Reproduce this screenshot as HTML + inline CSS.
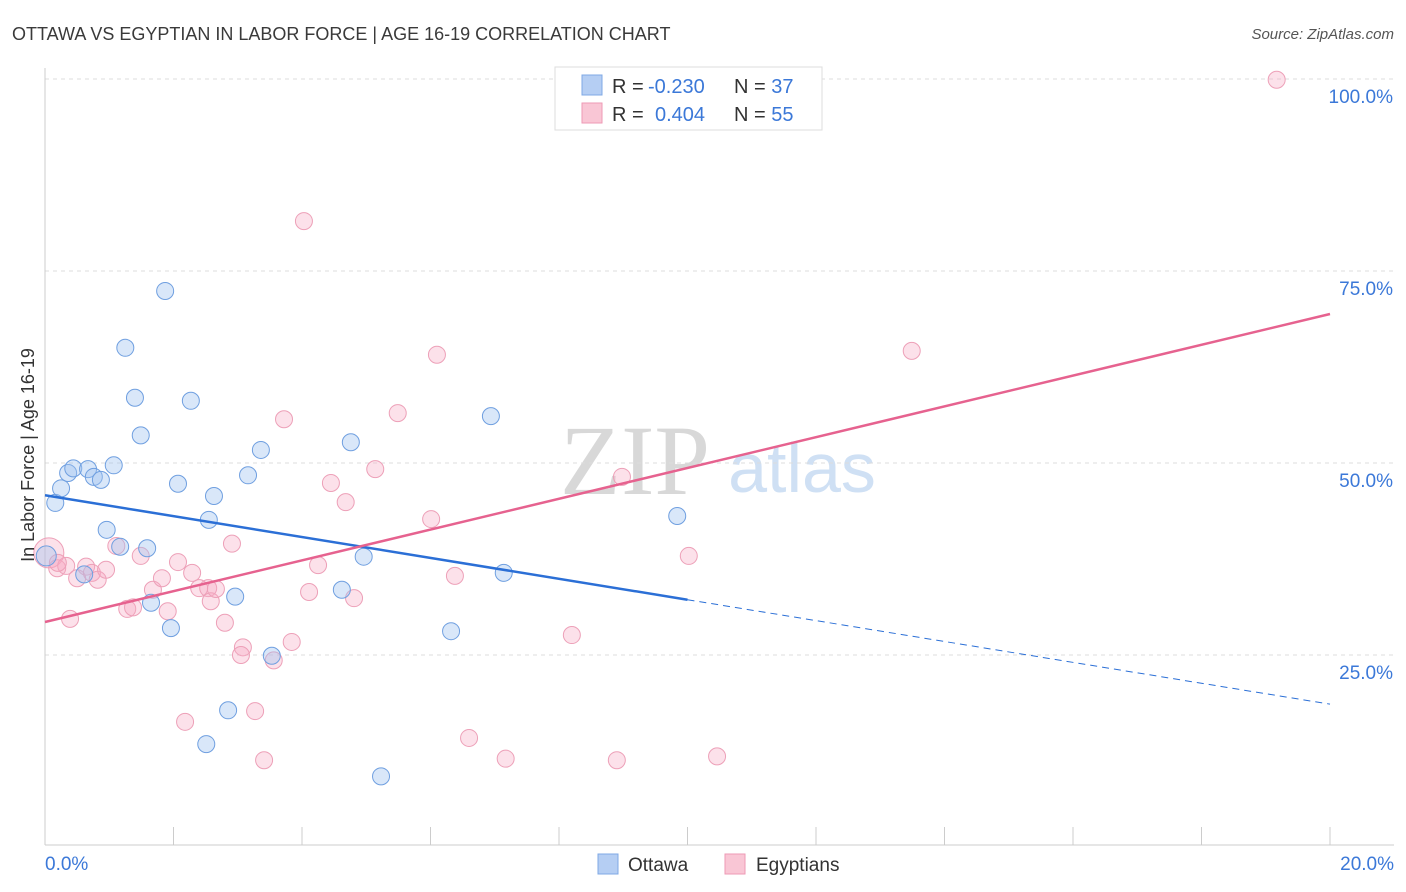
<!DOCTYPE html>
<html><head><meta charset="utf-8">
<style>
body{margin:0;background:#fff;font-family:"Liberation Sans",sans-serif;}
svg{display:block}
</style></head>
<body>
<svg id="chart" width="1406" height="892" xmlns="http://www.w3.org/2000/svg">
<text x="12" y="40" font-size="18" fill="#3a3a3a">OTTAWA VS EGYPTIAN IN LABOR FORCE | AGE 16-19 CORRELATION CHART</text>
<text x="1394" y="39" font-size="15" fill="#555" text-anchor="end" font-style="italic">Source: ZipAtlas.com</text>
<g>
<text x="635" y="494" font-size="100" fill="#d8d8d8" font-family="Liberation Serif,serif" text-anchor="middle">ZIP</text>
<text x="802" y="492" font-size="70" fill="#cfe0f4" text-anchor="middle">atlas</text>
</g>
<g id="grid"></g>
<g id="axes"></g>
<g id="marks"></g>
<text transform="translate(34,455) rotate(-90)" font-size="18" fill="#333" text-anchor="middle">In Labor Force | Age 16-19</text>
<g>
<rect x="555" y="67" width="267" height="63" fill="#fff" stroke="#ddd"/>
<rect x="582" y="75" width="20" height="20" fill="#b5cef3" stroke="#7fa8e4"/>
<rect x="582" y="103" width="20" height="20" fill="#f9c6d5" stroke="#ee9ab5"/>
<text x="612" y="93" font-size="20" fill="#333">R = <tspan fill="#3b78d8" x="648">-0.230</tspan></text>
<text x="734" y="93" font-size="20" fill="#333">N = <tspan fill="#3b78d8">37</tspan></text>
<text x="612" y="121" font-size="20" fill="#333">R = <tspan fill="#3b78d8" x="655">0.404</tspan></text>
<text x="734" y="121" font-size="20" fill="#333">N = <tspan fill="#3b78d8">55</tspan></text>
</g>
<g>
<rect x="598" y="854" width="20" height="20" fill="#b5cef3" stroke="#7fa8e4"/>
<text x="628" y="871" font-size="19" fill="#333">Ottawa</text>
<rect x="725" y="854" width="20" height="20" fill="#f9c6d5" stroke="#ee9ab5"/>
<text x="756" y="871" font-size="19" fill="#333">Egyptians</text>
</g>
</svg>
<script>
const ottawaX=[0.02,0.16,0.25,0.36,0.44,0.67,0.76,0.87,1.07,0.96,0.61,1.17,1.59,1.25,1.40,1.49,1.87,2.27,2.07,2.63,2.55,1.65,1.96,2.96,3.16,3.36,2.85,2.51,3.53,4.76,4.96,4.62,5.23,6.32,6.94,7.14,9.84];
const ottawaY=[37.9,44.8,46.7,48.7,49.3,49.2,48.2,47.8,49.7,41.3,35.5,39.1,38.9,65.0,58.5,53.6,72.4,58.1,47.3,45.7,42.6,31.8,28.5,32.6,48.4,51.7,17.8,13.4,24.9,52.7,37.8,33.5,9.2,28.1,56.1,35.7,43.1];
const egyX=[19.17,4.03,6.10,13.49,3.72,5.49,4.45,4.68,5.14,6.01,8.98,10.02,6.38,8.20,0.06,0.19,0.33,0.50,0.64,0.73,0.82,0.95,0.39,1.11,1.49,1.28,1.37,1.68,1.82,1.91,2.07,2.29,2.40,2.54,2.58,2.66,2.91,2.80,3.08,3.05,3.56,3.84,4.11,4.25,4.81,2.18,3.27,3.41,6.60,7.17,8.90,10.46,0.20];
const egyY=[99.9,81.5,64.1,64.6,55.7,56.5,47.4,44.9,49.2,42.7,48.2,37.9,35.3,27.6,38.3,36.3,36.6,35.0,36.5,35.7,34.8,36.1,29.7,39.2,37.9,31.0,31.2,33.5,35.0,30.7,37.1,35.7,33.7,33.7,32.0,33.6,39.5,29.2,26.0,25.0,24.3,26.7,33.2,36.7,32.4,16.3,17.7,11.3,14.2,11.5,11.3,11.8,37.0];
const yTicks=[25,50,75,100];
const yTickLabels=["25.0%","50.0%","75.0%","100.0%"];
const xTicks=[0,2,4,6,8,10,12,14,16,18,20];
const blueTrend=[45.8,18.6];
const pinkTrend=[29.3,69.4];
const blueSolidEnd=10.0;

const NS="http://www.w3.org/2000/svg";
const sx=v=>45+v*(1285/20);
const sy=v=>847-v*7.68;
function mk(tag,attrs,parent){const e=document.createElementNS(NS,tag);for(const k in attrs)e.setAttribute(k,attrs[k]);parent.appendChild(e);return e;}
const grid=document.getElementById('grid'),axes=document.getElementById('axes'),marks=document.getElementById('marks');
yTicks.forEach((t,i)=>{
  const l=mk('line',{x1:45,x2:1394,y1:sy(t),y2:sy(t),stroke:'#ddd','stroke-dasharray':'4,4'},grid);
  
  
  const tx=mk('text',{x:1393,y:sy(t)+24,'font-size':19,fill:'#3b78d8','text-anchor':'end'},axes);
  tx.textContent=yTickLabels[i];
  
  
});
const xa=mk('line',{x1:45,x2:1394,y1:845,y2:845,stroke:'#ccc'},axes);


const ya=mk('line',{x1:45,x2:45,y1:68,y2:845,stroke:'#ccc'},axes);


xTicks.forEach(t=>{
  const l=mk('line',{x1:sx(t),x2:sx(t),y1:827,y2:845,stroke:'#ccc'},axes);
  
  
});
const xl0=mk('text',{x:45,y:870,'font-size':19,fill:'#3b78d8'},axes);xl0.textContent='0.0%';


const xl1=mk('text',{x:1394,y:870,'font-size':19,fill:'#3b78d8','text-anchor':'end'},axes);xl1.textContent='20.0%';



egyX.forEach((x,i)=>{
  const c=mk('circle',{cx:sx(x),cy:sy(egyY[i]),r:i===14?15:8.5,fill:'rgba(245,170,195,0.35)',stroke:'#eda0b8','stroke-width':1},marks);
  
  
});
ottawaX.forEach((x,i)=>{
  const c=mk('circle',{cx:sx(x),cy:sy(ottawaY[i]),r:i===0?10:8.5,fill:'rgba(160,195,240,0.4)',stroke:'#6f9fe0','stroke-width':1},marks);
  
  
});
const bAt=x=>blueTrend[0]+(blueTrend[1]-blueTrend[0])*x/20;
const b1=mk('line',{x1:sx(0),y1:sy(bAt(0)),x2:sx(blueSolidEnd),y2:sy(bAt(blueSolidEnd)),stroke:'#2b6fd6','stroke-width':2.5},marks);


const b2=mk('line',{x1:sx(blueSolidEnd),y1:sy(bAt(blueSolidEnd)),x2:sx(20),y2:sy(bAt(20)),stroke:'#2b6fd6','stroke-width':1,'stroke-dasharray':'7,5'},marks);


const p1=mk('line',{x1:sx(0),y1:sy(pinkTrend[0]),x2:sx(20),y2:sy(pinkTrend[1]),stroke:'#e6628f','stroke-width':2.5},marks);


</script>
</body></html>
